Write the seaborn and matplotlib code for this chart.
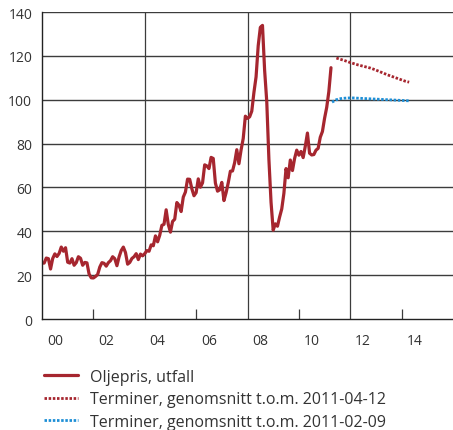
import numpy as np
import pandas as pd
import matplotlib
matplotlib.use("Agg")
import matplotlib.pyplot as plt
import matplotlib.transforms as mtransforms
import seaborn as sns

# Brent, monthly averages (USD/barrel), Dec 1999 -> Mar 2011
oil_price = [
    25.5,
    25.5, 27.8, 27.5, 22.8, 27.6, 29.7, 28.5, 29.9, 32.8, 30.9, 32.5, 25.9,  # 2000
    25.5, 27.5, 24.5, 25.7, 28.4, 27.7, 24.5, 25.8, 25.6, 20.5, 18.8, 18.7,  # 2001
    19.4, 20.3, 23.7, 25.7, 25.4, 24.1, 25.7, 26.6, 28.4, 27.5, 24.3, 28.3,  # 2002
    31.2, 32.8, 30.3, 25.0, 25.8, 27.6, 28.4, 29.8, 27.1, 29.6, 28.8, 29.8,  # 2003
    31.2, 30.9, 33.8, 33.4, 37.9, 35.2, 38.2, 42.7, 43.2, 49.8, 43.1, 39.6,  # 2004
    44.5, 45.5, 53.1, 51.9, 49.0, 55.6, 57.9, 63.8, 63.7, 59.4, 56.2, 57.6,  # 2005
    63.9, 60.1, 62.1, 70.3, 69.8, 68.6, 73.7, 73.2, 62.0, 58.3, 58.9, 62.3,  # 2006
    54.0, 57.6, 62.1, 67.4, 67.5, 71.3, 77.2, 70.8, 77.1, 82.3, 92.5, 91.5,  # 2007
    92.2, 94.8, 103.3, 110.4, 124.6, 133.0, 133.9, 113.4, 99.1, 72.8, 53.2, 40.5,  # 2008
    43.4, 42.3, 46.5, 50.2, 57.3, 68.6, 64.4, 72.5, 67.7, 73.2, 77.0, 74.7,  # 2009
    76.4, 73.6, 78.8, 84.8, 75.6, 74.8, 75.0, 77.0, 77.8, 82.9, 85.5, 91.5,  # 2010
    96.5, 103.7, 114.6,  # 2011
]
oil_start = 2000.0

# forward prices, two-month steps
fwd_apr = [119.0, 118.4, 117.8, 117.1, 116.5, 115.9, 115.4, 114.9, 114.4,
           113.7, 112.9, 112.1, 111.3, 110.6, 109.9, 109.2, 108.5, 108.0]
fwd_apr_start = 2011.46
fwd_feb = [98.9, 100.0, 100.5, 100.7, 100.8, 100.8, 100.7, 100.6, 100.5, 100.4,
           100.3, 100.2, 100.1, 100.0, 99.9, 99.8, 99.7, 99.6, 99.5]
fwd_feb_start = 2011.29

year_labels = ["00", "02", "04", "06", "08", "10", "12", "14"]
label_years = [2000, 2002, 2004, 2006, 2008, 2010, 2012, 2014]
full_lines = [2004, 2008, 2012]
short_ticks = [2002, 2006, 2010, 2014]

labels = ["Oljepris, utfall",
          "Terminer, genomsnitt t.o.m. 2011-04-12",
          "Terminer, genomsnitt t.o.m. 2011-02-09"]

red = "#a6262f"
blue = "#1e8fd6"
grid_col = "#3c3c3c"
text_col = "#333333"

oil = pd.DataFrame({"x": oil_start + np.arange(len(oil_price)) / 12, "y": oil_price})
fa = pd.DataFrame({"x": fwd_apr_start + np.arange(len(fwd_apr)) * 2 / 12, "y": fwd_apr})
fb = pd.DataFrame({"x": fwd_feb_start + np.arange(len(fwd_feb)) * 2 / 12, "y": fwd_feb})

sns.set_style("white")
plt.rcParams["font.family"] = ["Open Sans", "DejaVu Sans"]

fig = plt.figure(figsize=(4.53, 4.31), dpi=100)
ax = fig.add_axes([42 / 453, 111 / 431, 1 - 42 / 453, 307 / 431])

sns.lineplot(data=oil, x="x", y="y", color=red, lw=2.3, ax=ax, label=labels[0])
sns.lineplot(data=fa, x="x", y="y", color=red, lw=2.0, ls=(0, (0.9, 0.6)), ax=ax, label=labels[1])
sns.lineplot(data=fb, x="x", y="y", color=blue, lw=2.0, ls=(0, (0.9, 0.6)), ax=ax, label=labels[2])

ax.set_xlim(2000, 2016)
ax.set_ylim(0, 140)
ax.set_yticks(np.arange(0, 141, 20))
ax.set_xticks([y + 0.5 for y in label_years])
ax.set_xticklabels(year_labels)
ax.tick_params(axis="both", which="major", length=0, labelsize=10, colors=text_col)
ax.tick_params(axis="x", which="major", pad=10)
ax.tick_params(axis="y", which="major", pad=7)
ax.set_xlabel("")
ax.set_ylabel("")

for v in np.arange(20, 141, 20):
    ax.axhline(v, color=grid_col, lw=1.0, zorder=0)
for v in full_lines:
    ax.axvline(v, color=grid_col, lw=0.9, zorder=0)
# short inward ticks on the x axis
trans = mtransforms.blended_transform_factory(ax.transData, ax.transAxes)
ax.vlines(short_ticks, 0, 0.032, transform=trans, color=grid_col, lw=0.9, zorder=0)

for s in ["top", "right"]:
    ax.spines[s].set_visible(False)
for s in ["left", "bottom"]:
    ax.spines[s].set_color("#222222")
    ax.spines[s].set_linewidth(1.0)

handles, lbls = ax.get_legend_handles_labels()
ax.get_legend().remove()
leg = fig.legend(handles, lbls, loc="upper left", bbox_to_anchor=(44 / 453, 1 - 370 / 431),
                 frameon=False, borderpad=0, borderaxespad=0, handlelength=2.1,
                 handletextpad=0.75, labelspacing=0.4, fontsize=11.5)
for t in leg.get_texts():
    t.set_color(text_col)

fig.savefig("out.png", dpi=100)
